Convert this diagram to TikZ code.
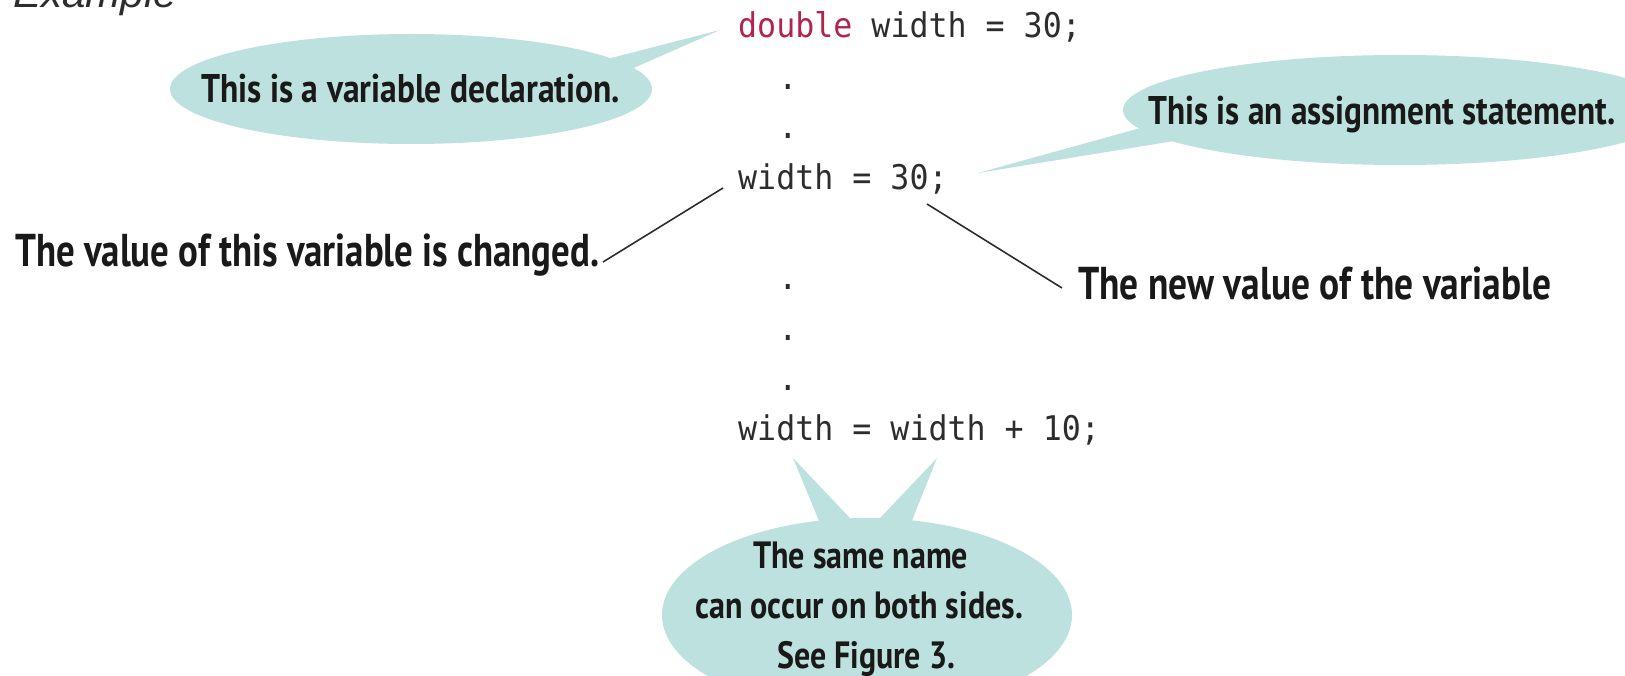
\documentclass[tikz,border=0pt]{standalone}
\usepackage{fontspec}
\usepackage{graphicx}
\usetikzlibrary{shapes.geometric}
\newfontfamily\codefont[FakeStretch=0.93]{DejaVu Sans Mono}
\newfontfamily\handfont{PT Sans}
\newfontfamily\exfont{Liberation Sans}
\definecolor{bubblefill}{RGB}{189,225,222}
\definecolor{kwcolor}{RGB}{178,36,78}
\definecolor{codegray}{RGB}{45,45,45}
\definecolor{ink}{RGB}{25,25,25}
\newcommand\fitw[2]{\resizebox{#1pt}{\height}{#2}}
\begin{document}
\begin{tikzpicture}[x=1pt,y=-1pt,
  bubble/.style={ellipse, fill=bubblefill, draw=none, inner sep=0pt},
  wedge/.style={fill=bubblefill, draw=none},
  codeline/.style={anchor=base west, inner sep=0pt, font=\codefont\fontsize{34}{40}\selectfont, text=codegray},
  codedot/.style={anchor=base, inner sep=0pt, font=\codefont\fontsize{34}{40}\selectfont, text=codegray},
  handsmall/.style={anchor=base west, inner sep=0pt, font=\handfont\bfseries\fontsize{40}{48}\selectfont, text=ink},
  handbig/.style={anchor=base west, inner sep=0pt, font=\handfont\bfseries\fontsize{46}{54}\selectfont, text=ink},
  handbot/.style={anchor=base west, inner sep=0pt, font=\handfont\bfseries\fontsize{38}{46}\selectfont, text=ink},
  connector/.style={draw=codegray, line width=1.6pt}]
\useasboundingbox (0,0) rectangle (1625,676);

% title
\node[anchor=base west, inner sep=0pt, font=\exfont\itshape\fontsize{40}{48}\selectfont, text=codegray] (example) at (13,8) {\fitw{164}{Example}};

% bubbles
\node[bubble, minimum width=482pt, minimum height=110pt] (declB) at (411,89) {};
\fill[wedge] (590,63.4) -- (720,30) -- (620,74) -- cycle;
\node[bubble, minimum width=554pt, minimum height=110pt] (assignB) at (1400,110) {};
\fill[wedge] (1160,122.6) -- (978,173) -- (1195,137.6) -- cycle;
\node[bubble, minimum width=410pt, minimum height=194pt] (sameB) at (867,615) {};
\fill[wedge] (826,538) -- (793,458) -- (867,536) -- (863,536) -- (937,458) -- (905,538) -- cycle;

% code
\node[codeline] (c1) at (738,38) {\textcolor{kwcolor}{double} width = 30;};
\node[codedot] (d1) at (788,90) {.};
\node[codedot] (d2) at (788,139) {.};
\node[codeline] (c2) at (738,190) {width = 30;};
\node[codedot] (d3) at (788,290) {.};
\node[codedot] (d4) at (788,340) {.};
\node[codedot] (d5) at (788,390) {.};
\node[codeline] (c3) at (738,440) {width = width + 10;};

% bubble texts
\node[handsmall] (declT) at (201,103) {\fitw{419}{This is a variable declaration.}};
\node[handsmall] (assignT) at (1148,125) {\fitw{467}{This is an assignment statement.}};
\node[handbot] (sameT1) at (753,568) {\fitw{215}{The same name}};
\node[handbot] (sameT2) at (695,618) {\fitw{328}{can occur on both sides.}};
\node[handbot] (sameT3) at (777,668) {\fitw{178}{See Figure 3.}};

% free labels
\node[handbig] (changedT) at (15,267) {\fitw{584}{The value of this variable is changed.}};
\node[handbig] (newT) at (1078,300) {\fitw{473}{The new value of the variable}};

% connectors
\coordinate (lA) at (603,262);
\coordinate (lB) at (723,188);
\coordinate (rA) at (927,204);
\coordinate (rB) at (1062,288);
\draw[connector] (lA) -- (lB);
\draw[connector] (rA) -- (rB);
\end{tikzpicture}
\end{document}
